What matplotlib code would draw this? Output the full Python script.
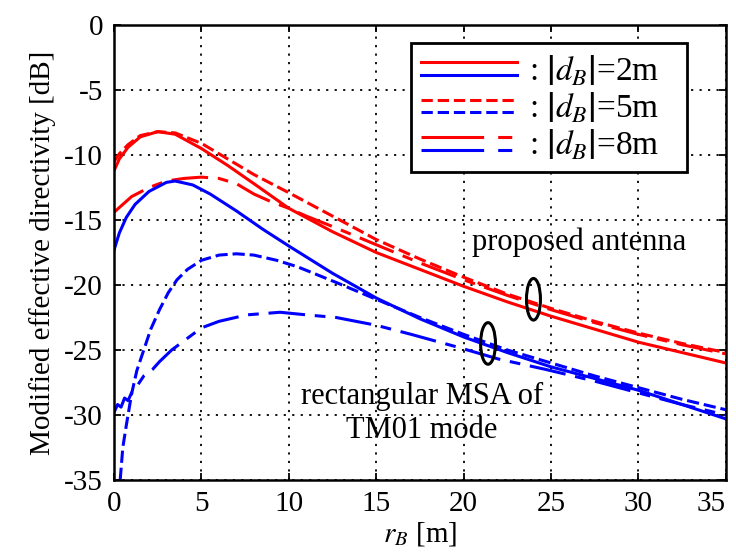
import matplotlib
matplotlib.use('Agg')
import matplotlib.pyplot as plt
from matplotlib.lines import Line2D
from matplotlib.legend_handler import HandlerBase
from matplotlib.patches import Ellipse

plt.rcParams['font.family'] = ['Liberation Serif', 'DejaVu Serif']
plt.rcParams['mathtext.fontset'] = 'stix'
plt.rcParams['axes.unicode_minus'] = False

# proposed antenna (red)
x_red_2 = [0, 0.3, 0.8, 1.5, 2.5, 3.5, 5, 6.5, 8, 10, 12.5, 15, 17.5, 20, 22.5, 25, 27.5, 30, 32.5, 35]
y_red_2 = [-11.2, -10.3, -9.4, -8.6, -8.2, -8.4, -9.5, -10.8, -12.2, -14.1, -15.9, -17.5, -18.8,
           -20.1, -21.3, -22.4, -23.4, -24.4, -25.2, -26.0]
x_red_5 = [0, 0.3, 0.8, 1.5, 2.5, 3.5, 5, 6.5, 8, 10, 12.5, 15, 17.5, 20, 22.5, 25, 27.5, 30, 32.5, 35]
y_red_5 = [-10.5, -9.9, -9.2, -8.5, -8.2, -8.3, -9.1, -10.3, -11.5, -12.9, -14.7, -16.5, -18.0,
           -19.4, -20.7, -21.8, -22.8, -23.7, -24.5, -25.2]
x_red_8 = [0, 0.5, 1, 2, 3, 4, 5, 6, 7, 8, 9, 10, 11, 12.5, 15, 17.5, 20, 22.5, 25, 27.5, 30, 32.5, 35]
y_red_8 = [-14.4, -13.8, -13.2, -12.5, -12.0, -11.8, -11.7, -11.8, -12.2, -13.0, -13.6, -14.1, -14.7,
           -15.5, -16.9, -18.3, -19.6, -20.8, -21.9, -22.9, -23.8, -24.6, -25.3]

# rectangular MSA of TM01 mode (blue)
x_blue_2 = [0, 0.3, 0.7, 1.2, 2, 3, 3.5, 4.5, 5.5, 7, 8.5, 10, 12.5, 15, 17.5, 20, 22.5, 25, 27.5,
            30, 32.5, 35]
y_blue_2 = [-17.3, -16.0, -14.8, -13.8, -12.8, -12.1, -12.0, -12.3, -13.0, -14.3, -15.7, -17.0,
            -19.1, -21.0, -22.6, -24.0, -25.2, -26.3, -27.2, -28.1, -29.2, -30.3]
x_blue_5 = [0.35, 0.5, 0.7, 1.0, 1.3, 1.7, 2.1, 2.6, 3.1, 3.6, 4.2, 5, 6, 7, 8, 9.3, 10.5, 12.7, 15,
            17.5, 20, 22.5, 25, 27.5, 30, 32.5, 35]
y_blue_5 = [-35, -32.5, -30.8, -28.4, -26.6, -25.0, -23.4, -21.9, -20.6, -19.6, -18.8, -18.1, -17.7,
            -17.6, -17.7, -18.1, -18.6, -19.8, -21.1, -22.5, -23.8, -25.0, -26.0, -27.0, -27.9,
            -28.8, -29.6]
x_blue_8 = [0, 0.2, 0.4, 0.6, 0.8, 1.0, 1.3, 1.7, 2.2, 2.6, 3.3, 4, 5, 6, 7.6, 9.5, 11, 12.7, 15, 17,
            19.7, 22, 24.7, 27.5, 30, 32.5, 35]
y_blue_8 = [-29.8, -29.2, -29.4, -28.7, -28.9, -28.3, -27.8, -27.0, -26.5, -25.9, -25.0, -24.3, -23.3,
            -22.8, -22.3, -22.1, -22.3, -22.5, -23.1, -23.8, -24.8, -25.7, -26.5, -27.4, -28.3,
            -29.2, -30.0]

legend_labels = [r': $\left|d_B\right|$=2m', r': $\left|d_B\right|$=5m', r': $\left|d_B\right|$=8m']


class StackedHandler(HandlerBase):
    # red line on top, blue line below, like the original legend
    def __init__(self, ls=None, **kw):
        super().__init__(**kw)
        self.ls = ls

    def create_artists(self, legend, orig_handle, xdescent, ydescent, width, height, fontsize, trans):
        artists = []
        for ln, dy in zip(orig_handle, (4.5, -4.5)):
            y = height / 2 - ydescent + dy
            a = Line2D([-xdescent, width - xdescent], [y, y], color=ln.get_color(),
                       linestyle=self.ls if self.ls is not None else ln.get_linestyle(),
                       linewidth=ln.get_linewidth())
            a.set_transform(trans)
            artists.append(a)
        return artists


fig = plt.figure(figsize=(7.36, 5.58), dpi=100)
ax = fig.add_axes([0.155, 0.140, 0.831, 0.815])

lw = 2.2
ls5 = (0, (4.0, 1.6))
ls8 = (0, (12, 3.2, 3.5, 3.2))
r2, = ax.plot(x_red_2, y_red_2, color='#ff0000', lw=lw, ls='-')
r5, = ax.plot(x_red_5, y_red_5, color='#ff0000', lw=lw, ls=ls5)
r8, = ax.plot(x_red_8, y_red_8, color='#ff0000', lw=lw, ls=ls8)
b2, = ax.plot(x_blue_2, y_blue_2, color='#0000ff', lw=lw, ls='-')
b5, = ax.plot(x_blue_5, y_blue_5, color='#0000ff', lw=lw, ls=ls5)
b8, = ax.plot(x_blue_8, y_blue_8, color='#0000ff', lw=lw, ls=ls8)

ax.set_xlim(0, 35)
ax.set_ylim(-35, 0)
ax.set_xticks(range(0, 36, 5))
ax.set_yticks(range(-35, 1, 5))
ax.grid(True, color='black', linestyle=(0, (1.2, 3.5)), linewidth=1.3)
ax.tick_params(direction='in', length=5, width=1.3, top=True, right=True, labelsize=21, pad=8)
for sp in ax.spines.values():
    sp.set_linewidth(1.8)
xl = ax.get_xticklabels()
xl[-1].set_horizontalalignment('right')

ax.set_xlabel(r'$r_B$ [m]', fontsize=21, labelpad=2)
ax.set_ylabel('Modified effective directivity [dB]', fontsize=21, labelpad=6)

ax.add_patch(Ellipse((24.0, -21.1), 0.8, 3.2, fill=False, edgecolor='black', lw=2.2, zorder=5))
ax.add_patch(Ellipse((21.4, -24.5), 0.85, 3.2, fill=False, edgecolor='black', lw=2.2, zorder=5))
ax.text(26.6, -16.7, 'proposed antenna', fontsize=22, ha='center', va='center')
ax.text(17.6, -28.6, 'rectangular MSA of', fontsize=22, ha='center', va='center')
ax.text(17.6, -31.2, 'TM01 mode', fontsize=22, ha='center', va='center')

handles = [(r2, b2), (r5, b5), (r8, b8)]
hmap = {handles[0]: StackedHandler(), handles[1]: StackedHandler(),
        handles[2]: StackedHandler(ls=(0, (20.5, 4.6, 4.6, 4.6)))}
leg = ax.legend(handles=handles, labels=[s + '   ' for s in legend_labels],
                handler_map=hmap, loc='upper left',
                bbox_to_anchor=(0.485, 0.960), borderaxespad=0, fontsize=24,
                handlelength=2.9, handletextpad=0.35, labelspacing=0.1,
                fancybox=False, framealpha=1, edgecolor='black', borderpad=0.3)
leg.get_frame().set_linewidth(2)

fig.savefig('out.png', dpi=100)
